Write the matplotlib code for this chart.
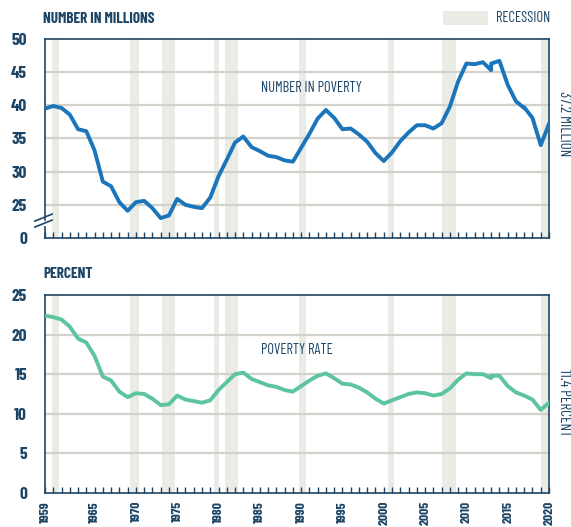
import matplotlib
matplotlib.use("Agg")
import matplotlib.pyplot as plt
from matplotlib.patches import Rectangle

# poverty data, 1959-2020 (2013 and 2017 have two estimates each)
years = [1959, 1960, 1961, 1962, 1963, 1964, 1965, 1966, 1967, 1968, 1969,
         1970, 1971, 1972, 1973, 1974, 1975, 1976, 1977, 1978, 1979,
         1980, 1981, 1982, 1983, 1984, 1985, 1986, 1987, 1988, 1989,
         1990, 1991, 1992, 1993, 1994, 1995, 1996, 1997, 1998, 1999,
         2000, 2001, 2002, 2003, 2004, 2005, 2006, 2007, 2008, 2009,
         2010, 2011, 2012, 2013, 2013, 2014, 2015, 2016, 2017, 2017,
         2018, 2019, 2020]
number_millions = [39.5, 39.9, 39.6, 38.6, 36.4, 36.1, 33.2, 28.5, 27.8, 25.4, 24.1,
                   25.4, 25.6, 24.5, 23.0, 23.4, 25.9, 25.0, 24.7, 24.5, 26.1,
                   29.3, 31.8, 34.4, 35.3, 33.7, 33.1, 32.4, 32.2, 31.7, 31.5,
                   33.6, 35.7, 38.0, 39.3, 38.1, 36.4, 36.5, 35.6, 34.5, 32.8,
                   31.6, 32.9, 34.6, 35.9, 37.0, 37.0, 36.5, 37.3, 39.8, 43.6,
                   46.3, 46.2, 46.5, 45.3, 46.3, 46.7, 43.1, 40.6, 39.6, 39.7,
                   38.1, 34.0, 37.2]
rate_percent = [22.4, 22.2, 21.9, 21.0, 19.5, 19.0, 17.3, 14.7, 14.2, 12.8, 12.1,
                12.6, 12.5, 11.9, 11.1, 11.2, 12.3, 11.8, 11.6, 11.4, 11.7,
                13.0, 14.0, 15.0, 15.2, 14.4, 14.0, 13.6, 13.4, 13.0, 12.8,
                13.5, 14.2, 14.8, 15.1, 14.5, 13.8, 13.7, 13.3, 12.7, 11.9,
                11.3, 11.7, 12.1, 12.5, 12.7, 12.6, 12.3, 12.5, 13.2, 14.3,
                15.1, 15.0, 15.0, 14.5, 14.8, 14.8, 13.5, 12.7, 12.3, 12.3,
                11.8, 10.5, 11.4]

# recession bands as drawn on the chart (start, end)
recessions = [(1959.9, 1960.7), (1969.3, 1970.4), (1973.2, 1974.7),
              (1979.4, 1980.1), (1980.8, 1982.4), (1989.8, 1990.6),
              (2000.5, 2001.3), (2007.1, 2008.8), (2019.0, 2019.9)]

year_labels = [1959, 1965, 1970, 1975, 1980, 1985, 1990, 1995, 2000, 2005, 2010, 2015, 2020]
top_ticks = [20, 25, 30, 35, 40, 45, 50]
top_tick_labels = ["0", "25", "30", "35", "40", "45", "50"]
bottom_ticks = [0, 5, 10, 15, 20, 25]

NAVY = "#1d4566"
BLUE = "#1b75bb"
GREEN = "#5cc49f"
GRID = "#d2d1ca"
SHADE = "#ebebe6"
FONT = ["Barlow Condensed", "Roboto Condensed", "DejaVu Sans"]

plt.rcParams["font.family"] = FONT

fig = plt.figure(figsize=(5.71, 5.27), dpi=100)
ax1 = fig.add_axes([45 / 571, 1 - 238 / 527, 504 / 571, 199 / 527])
ax2 = fig.add_axes([45 / 571, 1 - 493 / 527, 504 / 571, 198 / 527])


def style(ax, ymin, ymax, ticks):
    ax.set_xlim(1959, 2020)
    ax.set_ylim(ymin, ymax)
    for s, e in recessions:
        ax.axvspan(s, e, color=SHADE, lw=0, zorder=0)
    for t in ticks[1:-1]:
        ax.axhline(t, color=GRID, lw=1.6, zorder=1)
    for sp in ax.spines.values():
        sp.set_color(NAVY)
        sp.set_linewidth(1.2)
    ax.set_xticks(range(1959, 2021))
    ax.tick_params(axis="x", direction="in", length=4, width=1, color=NAVY, labelbottom=False)
    ax.set_yticks(ticks)
    ax.tick_params(axis="y", length=0, pad=13, labelcolor=NAVY, labelsize=12.5)


style(ax1, 20.1, 50, top_ticks)
ax1.set_yticklabels(top_tick_labels, fontweight="bold")
ax1.plot(years, number_millions, color=BLUE, lw=2.8, zorder=3, solid_joinstyle="round")

# broken left axis
ax1.spines["left"].set_visible(False)
ax1.plot([0, 0], [0.09, 1], transform=ax1.transAxes, color=NAVY, lw=1.2, clip_on=False)
ax1.plot([0, 0], [0, 0.055], transform=ax1.transAxes, color=NAVY, lw=1.2, clip_on=False)
for y0 in (0.085, 0.055):
    ax1.plot([-0.02, 0.014], [y0, y0 + 0.035], transform=ax1.transAxes,
             color=NAVY, lw=1.2, clip_on=False)

style(ax2, 0, 25, bottom_ticks)
ax2.set_yticklabels([str(t) for t in bottom_ticks], fontweight="bold")
ax2.plot(years, rate_percent, color=GREEN, lw=2.8, zorder=3, solid_joinstyle="round")

# year labels under the bottom panel
for yr in year_labels:
    ax2.text(yr, -1.0, str(yr), rotation=90, ha="center", va="top", color=NAVY,
             fontsize=9.8, fontweight="bold", clip_on=False)

# series labels
ax1.text(1991.2, 42.6, "NUMBER IN POVERTY", ha="center", va="center", color=NAVY, fontsize=10.5)
ax2.text(1989.5, 18.0, "POVERTY RATE", ha="center", va="center", color=NAVY, fontsize=10.5)

# end values
ax1.text(2021.0, number_millions[-1], "37.2 MILLION", rotation=-90, ha="left", va="center",
         color=NAVY, fontsize=11, clip_on=False)
ax2.text(2021.0, rate_percent[-1], "11.4 PERCENT", rotation=-90, ha="left", va="center",
         color=NAVY, fontsize=11, clip_on=False)

# panel titles
fig.text(43 / 571, 1 - 19 / 527, "NUMBER IN MILLIONS", ha="left", va="center",
         color=NAVY, fontsize=11, fontweight="bold")
fig.text(43 / 571, 1 - 274 / 527, "PERCENT", ha="left", va="center",
         color=NAVY, fontsize=11, fontweight="bold")

# legend
fig.patches.append(Rectangle((443 / 571, 1 - 25 / 527), 45 / 571, 14 / 527,
                             transform=fig.transFigure, color=SHADE, lw=0))
fig.text(496 / 571, 1 - 18 / 527, "RECESSION", ha="left", va="center", color=NAVY, fontsize=10.5)

fig.savefig("out.png", dpi=100)
